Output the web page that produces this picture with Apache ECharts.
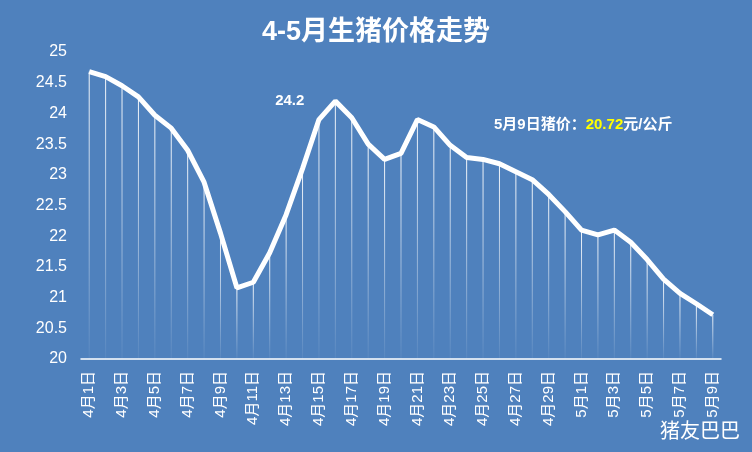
<!DOCTYPE html>
<html><head><meta charset="utf-8">
<script src="https://cdn.jsdelivr.net/npm/echarts@6/dist/echarts.min.js"></script>
<style>html,body{margin:0;padding:0;background:#4f81bd}#c{width:752px;height:452px}</style>
</head><body><div id="c"></div>
<script>
const categories = [];
for (let d = 1; d <= 30; d++) categories.push('4月' + d + '日');
for (let d = 1; d <= 9; d++) categories.push('5月' + d + '日');
const prices = [24.68,24.6,24.45,24.27,23.97,23.76,23.4,22.88,22.05,21.16,21.25,21.73,22.35,23.1,23.9,24.2,23.93,23.5,23.25,23.35,23.9,23.78,23.48,23.28,23.25,23.18,23.05,22.92,22.68,22.4,22.1,22.02,22.1,21.9,21.62,21.3,21.07,20.9,20.72];
const yTicks = [20,20.5,21,21.5,22,22.5,23,23.5,24,24.5,25];
const chart = echarts.init(document.getElementById('c'));
const F = 'Liberation Sans, Noto Sans CJK SC, sans-serif';
chart.setOption({
  backgroundColor: '#4f81bd',
  animation: false,
  title: {text: '4-5月生猪价格走势', left: 'center', top: 14,
    textStyle: {color: '#fff', fontSize: 27, fontWeight: 'bold', fontFamily: F}},
  graphic: [
    {type: 'text', left: 494, top: 117, style: {rich: {a: {fill: '#fff', fontSize: 15, fontWeight: 'bold', fontFamily: F}, b: {fill: '#ffff00', fontSize: 15, fontWeight: 'bold', fontFamily: F}},
      text: '{a|5月9日猪价：}{b|20.72}{a|元/公斤}'}},
    {type: 'text', right: 12, bottom: 10, style: {text: '猪友巴巴', fill: '#fff', fontSize: 20, fontFamily: F}}
  ],
  grid: {left: 81, right: 31, top: 52, bottom: 93},
  xAxis: {type: 'category', data: categories, boundaryGap: true,
    axisLine: {lineStyle: {color: '#fff', width: 1.5}},
    axisTick: {interval: 1, length: 6, lineStyle: {color: '#fff', width: 1.5}},
    axisLabel: {interval: 1, rotate: 90, color: '#fff', fontSize: 15, fontFamily: F, margin: 12}},
  yAxis: {type: 'value', min: 20, max: 25, interval: 0.5, splitLine: {show: false},
    axisLine: {show: false}, axisTick: {show: false},
    axisLabel: {color: '#fff', fontSize: 16, fontFamily: F, margin: 14, formatter: v => yTicks.includes(v) ? String(v) : ''}},
  series: [
    {type: 'bar', data: prices, barWidth: 1, silent: true,
      itemStyle: {color: new echarts.graphic.LinearGradient(0,0,0,1,[{offset:0,color:'rgba(255,255,255,0.95)'},{offset:1,color:'rgba(255,255,255,0.05)'}])}},
    {type: 'line', data: prices, symbol: 'none', lineStyle: {color: '#fff', width: 5},
      markPoint: {symbol: 'circle', symbolSize: 0, data: [{coord: [15, 24.2], value: 24.2}],
        label: {show: true, position: 'left', offset: [-26, 0], color: '#fff', fontSize: 15, fontWeight: 'bold', fontFamily: F}}}
  ]
});
</script></body></html>
